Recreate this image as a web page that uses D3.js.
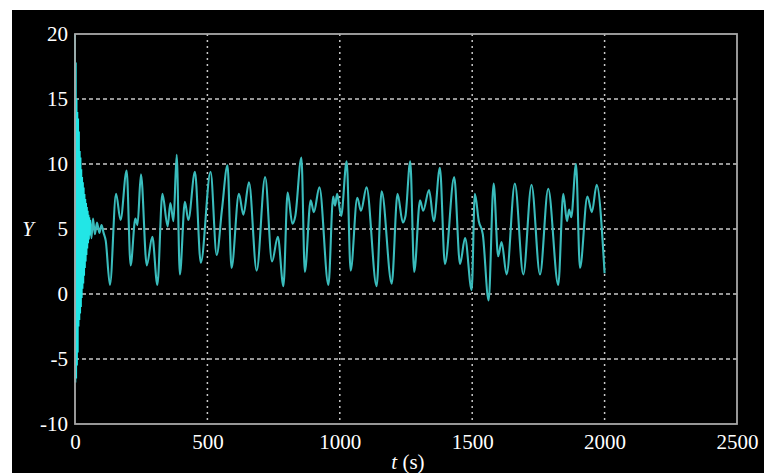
<!DOCTYPE html>
<html><head><meta charset="utf-8">
<script src="https://cdn.jsdelivr.net/npm/d3@7/dist/d3.min.js"></script>
<style>html,body{margin:0;padding:0;background:#fff;}svg{display:block;}</style>
</head><body>
<script>
// ---- data ----
const xTicks = [0, 500, 1000, 1500, 2000, 2500];
const yTicks = [-10, -5, 0, 5, 10, 15, 20];

// initial transient (dense oscillation)
const tTransient = [0,1.5,3,4.5,6,7.5,9,10.5,12,13.5,15,16.5,18,19.5,21,22.5,24,25.5,27,28.5,30,31.5,33,34.5,36,37.5,39,40.5,42,43.5,45,46.5,48,49.5,51,52.5,54,55.5,57];
const yTransient = [20,-6.8,17.8,-6.5,15,-5.5,14,-4.5,13.5,-2.5,12.5,-2,11,-1.5,10.5,-1,9.6,-0.3,9,0.4,8.6,0.8,8.2,1.4,7.7,2,7.3,2.5,7,3,6.7,3.5,6.4,3.9,6.1,4.2,5.9,4.5,5.7];

// main oscillation (extrema)
const tMain = [57,62,68,75,83,92,100,108,116,132,155,172,195,210,228,236,249,271,292,311,330,350,360,372,384,396,415,428,453,475,512,535,555,576,591,619,636,657,686,718,744,766,787,803,821,832,855,868,890,902,923,957,975,982,990,1005,1026,1041,1066,1080,1101,1139,1158,1196,1218,1238,1248,1266,1281,1303,1315,1337,1355,1378,1397,1432,1454,1473,1498,1510,1525,1540,1562,1581,1598,1611,1630,1661,1693,1724,1756,1787,1825,1844,1858,1866,1874,1892,1907,1935,1952,1970,2000];
const yMain = [5.7,4.3,5.8,4.6,5.5,4.7,5.3,4.7,4.1,0.7,7.7,5.7,9.5,2.2,5.8,5.3,9.2,2.2,4.4,0.7,7.7,5.2,7.0,5.6,10.7,1.5,7.1,5.7,9.4,2.4,9.4,3.0,6.5,9.9,2.0,7.7,6.1,8.6,1.8,9.0,2.5,4.4,0.6,7.8,5.4,6.0,10.5,1.7,7.2,6.3,8.2,0.7,7.5,6.8,7.7,6.0,10.2,1.8,7.4,6.4,8.2,0.6,7.9,0.8,7.7,5.5,6.0,10.2,1.7,7.2,6.4,8.0,5.6,9.7,2.3,9.0,2.3,4.3,0.3,7.7,5.6,4.6,-0.5,8.5,2.9,4.0,1.5,8.5,1.5,8.4,1.5,8.1,0.7,7.7,5.6,6.5,5.9,10.0,2.0,7.5,6.3,8.4,1.6];

// ---- drawing ----
const W = 764, H = 473;
const svg = d3.select("body").append("svg").attr("width", W).attr("height", H);
svg.append("rect").attr("x", 12).attr("y", 10).attr("width", W - 12).attr("height", H - 10).attr("fill", "#000");

const L = 75, R = 737, T = 34, B = 424;
const x = d3.scaleLinear().domain([0, 2500]).range([L, R]);
const y = d3.scaleLinear().domain([-10, 20]).range([B, T]);

// grid
const grid = svg.append("g");
grid.selectAll(".hg").data(yTicks.filter(v => v > -10 && v < 20)).join("line")
  .attr("x1", L).attr("x2", R).attr("y1", d => y(d)).attr("y2", d => y(d))
  .attr("stroke", "#c8c8c8").attr("stroke-width", 1.5).attr("stroke-dasharray", "4,3");
grid.selectAll(".vg").data(xTicks.filter(v => v > 0 && v < 2500)).join("line")
  .attr("y1", T).attr("y2", B).attr("x1", d => x(d)).attr("x2", d => x(d))
  .attr("stroke", "#c8c8c8").attr("stroke-width", 1.5).attr("stroke-dasharray", "2,4");

// series
const line = d3.line().x(d => x(d[0])).y(d => y(d[1])).curve(d3.curveMonotoneX);
const mainData = tMain.map((t, i) => [t, yMain[i]]);
const transData = tTransient.map((t, i) => [t, yTransient[i]]);
svg.append("path").datum(mainData).attr("d", line)
  .attr("fill", "none").attr("stroke", "#3abcbc").attr("stroke-width", 2.1).attr("stroke-linejoin", "round");
svg.append("path").datum(transData).attr("d", d3.line().x(d => x(d[0])).y(d => y(d[1])))
  .attr("fill", "none").attr("stroke", "#22e6e6").attr("stroke-width", 1.8);

// axes box
svg.append("rect").attr("x", L).attr("y", T).attr("width", R - L).attr("height", B - T)
  .attr("fill", "none").attr("stroke", "#a8a8a8").attr("stroke-width", 1.8);

// tick labels via d3 axes
const fontFam = "'Liberation Serif', 'Times New Roman', serif";
const fmt = d => String(d);
const xAxis = svg.append("g").attr("transform", `translate(0,${B})`)
  .call(d3.axisBottom(x).tickValues(xTicks).tickSize(0).tickPadding(10).tickFormat(fmt));
const yAxis = svg.append("g").attr("transform", `translate(${L},0)`)
  .call(d3.axisLeft(y).tickValues(yTicks).tickSize(0).tickPadding(7).tickFormat(fmt));
[xAxis, yAxis].forEach(a => {
  a.select(".domain").remove();
  a.selectAll("text").attr("fill", "#fff").style("font-family", fontFam).style("font-size", "21px");
});

// axis titles
svg.append("text").attr("x", 28).attr("y", y(5)).attr("dy", "0.35em").attr("text-anchor", "middle")
  .attr("fill", "#fff").style("font-family", fontFam).style("font-size", "21px").style("font-style", "italic").text("Y");
const xt = svg.append("text").attr("x", (L + R) / 2 + 2).attr("y", 469).attr("text-anchor", "middle")
  .attr("fill", "#fff").style("font-family", fontFam).style("font-size", "21px");
xt.append("tspan").style("font-style", "italic").text("t");
xt.append("tspan").text(" (s)");
</script>
</body></html>
